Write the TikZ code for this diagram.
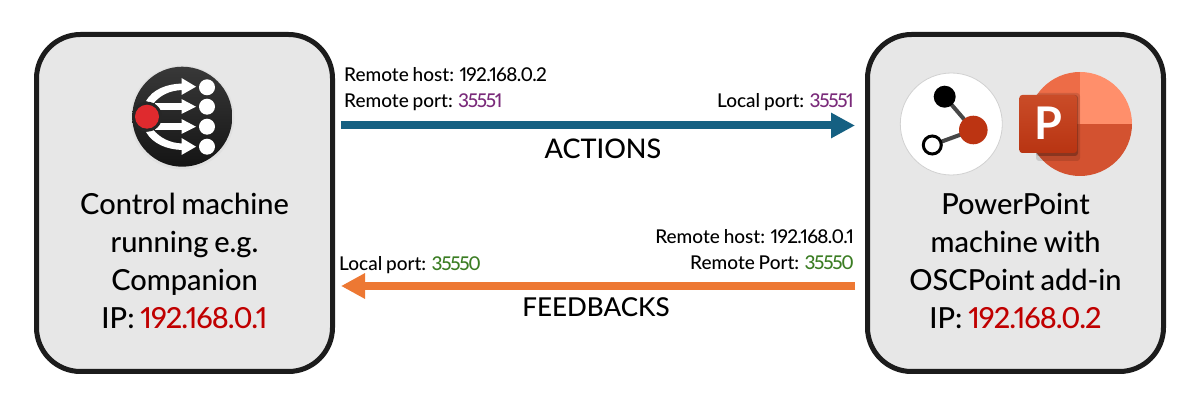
\documentclass[tikz,border=0pt]{standalone}
\usepackage{fontspec}
\setmainfont{Lato Medium}[Numbers=Proportional,BoldFont={Lato Bold},WordSpace=0.8]
\newfontfamily\ipfont{Lato Medium}[Numbers=Proportional,LetterSpace=-3.5]
\newfontfamily\portfont{Lato Medium}[Numbers=Proportional,LetterSpace=-7]
\usetikzlibrary{arrows.meta}
\definecolor{boxfill}{HTML}{E7E7E7}
\definecolor{boxline}{HTML}{1C1C1C}
\definecolor{actblue}{HTML}{156082}
\definecolor{fbkorange}{HTML}{ED7833}
\definecolor{portpurple}{HTML}{7A2A7A}
\definecolor{portgreen}{HTML}{3B7D23}
\definecolor{ipred}{HTML}{C00000}
\definecolor{compred}{HTML}{DF2A2E}
\definecolor{oscred}{HTML}{BC3412}
\definecolor{ppbottom}{HTML}{D35230}
\definecolor{pptopright}{HTML}{FF8F6B}
\definecolor{pptopleft}{HTML}{ED6C47}
\definecolor{ppsqtop}{HTML}{CA4C28}
\definecolor{ppsqbot}{HTML}{B83412}
\tikzset{
  machine/.style={draw=boxline,line width=5pt,fill=boxfill,rounded corners=44pt,minimum width=296pt,minimum height=337pt,inner sep=0pt},
  flow/.style={line width=8pt,-{Triangle[length=24pt,width=24pt]}},
  bigtext/.style={font=\fontsize{29}{29}\selectfont,anchor=base,inner sep=0pt},
  smalltext/.style={font=\fontsize{19}{19}\selectfont,inner sep=0pt},
}
\begin{document}
\begin{tikzpicture}[x=1pt,y=-1pt]
\useasboundingbox (0,0) rectangle (1200,403);
\fill[white] (0,0) rectangle (1200,403);
\node[machine] (ctrl) at (184.5,203) {};
\node[machine] (osc) at (1015.5,203) {};
% Companion icon
\fill[black!12] (182.3,117.5) circle (52);
\shade[top color=black!78,bottom color=black!92] (182.3,116.7) circle (50);
\foreach \y in {87.3,106.7,126.7,146.7} \fill[white] (207,\y) circle (8);
\fill[white] (155,103.3) rectangle (182,110);
\fill[white] (155,123.3) rectangle (182,130);
\foreach \a/\b/\t in {78/95/86.7,99/114/106.7,119/134/126.7,138/155/146.7}
  \fill[white] (181.5,\a) -- (196,\t) -- (181.5,\b) -- cycle;
\fill[white] (146,101) .. controls (153,89) and (167,84) .. (182,83.5) -- (182,90) .. controls (170,90.5) and (160,95) .. (153,104) -- cycle;
\fill[white] (146,132) .. controls (153,144) and (167,149.5) .. (182,150) -- (182,143.5) .. controls (170,143) and (160,138) .. (153,129.5) -- cycle;
\fill[black!85] (147,116.7) circle (15);
\fill[compred] (147,116.7) circle (12);
% OSCPoint icon
\fill[white,draw=black!18,line width=0.8pt] (951.3,124) circle (51);
\draw[black!72,line width=4pt] (944.7,96.7) -- (973.3,130) -- (932.3,145);
\fill[black] (944.7,96.7) circle (11);
\fill[oscred] (973.3,130) circle (14.3);
\draw[black,line width=3pt,fill=white] (932.3,145) circle (9);
% PowerPoint icon
\begin{scope}
\clip (1080,124) circle (52);
\fill[ppbottom] (1020,124) rectangle (1140,180);
\fill[pptopright] (1080,60) rectangle (1140,124);
\fill[pptopleft] (1020,60) rectangle (1080,124);
\end{scope}
\fill[black,opacity=0.12,rounded corners=3pt] (1036,93) rectangle (1080,161);
\fill[black,opacity=0.25,rounded corners=3pt] (1036,95) rectangle (1078,156);
\shade[rounded corners=3pt,top color=ppsqtop,bottom color=ppsqbot] (1019.3,95) rectangle (1077,153);
\node[font=\fontsize{45}{45}\selectfont\bfseries,text=white,anchor=base,inner sep=0pt] (pletter) at (1048,140) {P};
% Machine labels
\node[bigtext] (c1) at (184.5,215) {Control machine};
\node[bigtext] (c2) at (184.5,253) {running e.g.};
\node[bigtext] (c3) at (184.5,291) {Companion};
\node[bigtext] (c4) at (184.5,329) {IP: \textcolor{ipred}{\ipfont 192.168.0.1}};
\node[bigtext] (o1) at (1015.5,215) {PowerPoint};
\node[bigtext] (o2) at (1015.5,253) {machine with};
\node[bigtext] (o3) at (1015.5,291) {OSCPoint add-in};
\node[bigtext] (o4) at (1015.5,329) {IP: \textcolor{ipred}{\ipfont 192.168.0.2}};
% Connectors
\draw[flow,actblue,shorten <=6pt,shorten >=10pt] (ctrl.east |- 0,125.5) -- (osc.west |- 0,125.5);
\draw[flow,fbkorange,shorten <=10pt,shorten >=6pt] (osc.west |- 0,286) -- (ctrl.east |- 0,286);
% Connector labels
\node[smalltext,anchor=base west] (l1) at (344,82) {Remote host: {\ipfont 192.168.0.2}};
\node[smalltext,anchor=base west] (l2) at (344,108) {Remote port: \textcolor{portpurple}{\portfont 35551}};
\node[smalltext,anchor=base east] (l3) at (854,108) {Local port: \textcolor{portpurple}{\portfont 35551}};
\node[bigtext,font=\fontsize{27}{27}\selectfont] (l4) at (603,159) {ACTIONS};
\node[smalltext,anchor=base east] (l5) at (854,244) {Remote host: {\ipfont 192.168.0.1}};
\node[smalltext,anchor=base east] (l6) at (854,270) {Remote Port: \textcolor{portgreen}{\portfont 35550}};
\node[smalltext,anchor=base west] (l7) at (339,271) {Local port: \textcolor{portgreen}{\portfont 35550}};
\node[bigtext,font=\fontsize{26}{26}\selectfont] (l8) at (596,317) {FEEDBACKS};
\end{tikzpicture}
\end{document}
